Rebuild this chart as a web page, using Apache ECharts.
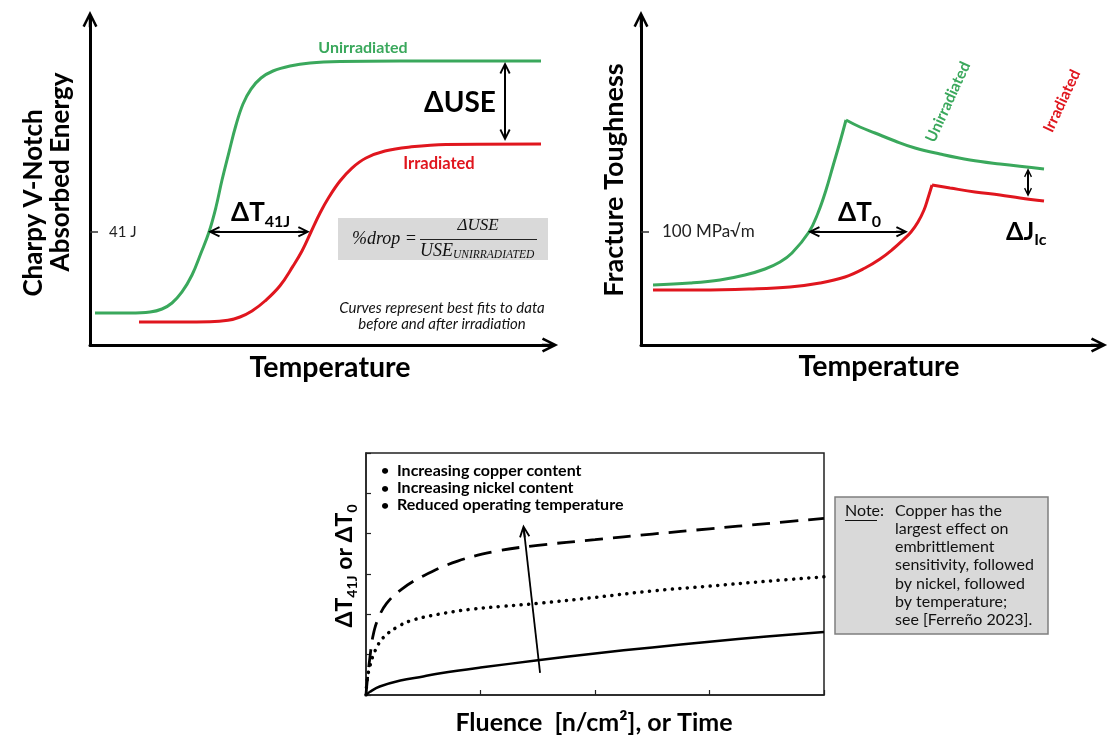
<!DOCTYPE html>
<html>
<head>
<meta charset="utf-8">
<script src="https://cdn.jsdelivr.net/npm/echarts@6/dist/echarts.min.js"></script>
<style>
html,body{margin:0;padding:0;background:#fff;}
#chart{width:1110px;height:738px;}
</style>
</head>
<body>
<div id="chart"></div>
<script>
// ---------- DATA (schematic values) ----------
// Panel A: Charpy energy vs temperature (arbitrary 0-100 units)
const charpyUnirr = [[1.07,9.50],[8.58,9.50],[12.88,9.79],[15.45,10.68],[17.60,12.46],[19.74,15.73],[21.89,20.77],[23.82,27.30],[25.54,33.53],[27.04,40.95],[28.33,48.96],[29.83,57.27],[31.33,65.28],[32.83,71.51],[34.55,75.96],[36.70,79.23],[39.27,81.31],[42.92,82.79],[47.21,83.68],[53.65,84.12],[66.52,84.27],[96.78,84.27]];
const charpyIrr = [[10.52,6.82],[19.31,6.82],[25.75,6.88],[29.61,7.33],[32.19,8.31],[34.76,10.09],[37.55,13.06],[40.77,17.6],[43.56,23.4],[45.49,27.89],[47.42,33.53],[49.36,39.17],[51.29,43.92],[53.65,48.66],[56.22,52.52],[59.23,55.49],[63.30,57.57],[68.67,58.75],[76.39,59.50],[96.78,59.64]];
const charpyRef = 33.53;           // 41 J level
const charpyRefLabel = '41 J';
const dUSEArrow = [[89.06,82.2],[89.06,62.3]];
const dT41JArrow = [[26.6,33.6],[45.9,33.6]];

// Panel B: fracture toughness vs temperature
const toughUnirr = [[2.58,17.80],[10.52,18.40],[16.95,19.29],[22.32,20.77],[26.61,22.55],[29.83,24.63],[32.40,27.30],[36.05,33.53],[37.98,39.17],[39.70,45.99],[41.20,53.12],[42.70,60.24],[43.99,66.77],[46.99,64.69],[50.21,62.91],[54.51,60.53],[58.80,58.46],[64.16,56.68],[70.60,54.90],[77.04,53.71],[86.48,52.23]];
const toughIrr = [[2.58,16.32],[12.66,16.32],[23.39,16.62],[31.97,17.21],[38.41,18.40],[43.78,20.18],[48.07,22.85],[51.29,25.52],[54.08,28.49],[56.22,31.16],[57.94,33.53],[59.44,36.50],[60.73,40.06],[61.59,43.62],[62.45,47.48],[66.31,46.59],[71.67,45.40],[77.04,44.51],[81.33,43.62],[86.48,42.73]];
const toughRef = 33.53;            // 100 MPa√m level
const toughRefLabel = '100 MPa√m';
const dT0Arrow = [[37.1,33.6],[56.0,33.6]];
const dJArrow = [[83.05,51.1],[83.05,45.3]];

// Panel C: shift vs fluence (0-4 x, 0-6 y)
const shiftLow  = [[0,0],[0.035,0.08],[0.12,0.21],[0.3,0.36],[0.5,0.46],[0.65,0.54],[1,0.68],[1.5,0.86],[2,1.03],[2.5,1.18],[3,1.32],[3.5,1.45],[4,1.56]];
const shiftMid  = [[0,0],[0.01,0.37],[0.035,0.72],[0.08,1.1],[0.15,1.42],[0.27,1.68],[0.4,1.85],[0.63,2.0],[0.9,2.12],[1.2,2.2],[1.5,2.27],[2,2.42],[2.5,2.58],[3,2.7],[3.5,2.82],[4,2.93]];
const shiftHigh = [[0,0],[0.01,0.33],[0.035,0.95],[0.06,1.45],[0.1,1.85],[0.18,2.27],[0.31,2.62],[0.5,2.95],[0.8,3.32],[1.15,3.57],[1.5,3.71],[2,3.85],[2.5,3.99],[3,4.12],[3.5,4.25],[4,4.38]];
const trendArrow = [[1.52,0.55],[1.38,4.07]];
const bulletItems = ['Increasing copper content','Increasing nickel content','Reduced operating temperature'];
const noteLines = ['Copper has the','largest effect on','embrittlement','sensitivity, followed','by nickel, followed','by temperature;','see [Ferreño 2023].'];

// ---------- STYLE ----------
const GREEN = '#3aa85c', RED = '#e0161e';
const FONT = 'Lato';
const ARROW = 'path://M0,12 L6,0 L12,12 L10.2,13 L7,6.5 L7,13 L5,13 L5,6.5 L1.8,13 Z';

function split(arr){
  let k = 0; arr.forEach((p,i)=>{ if(p[1] > arr[k][1]) k = i; });
  return [arr.slice(0,k+1), arr.slice(k)];
}
const [tuRise, tuFall] = split(toughUnirr);
const [tiRise, tiFall] = split(toughIrr);

function arrowAxis(gi, max, extra){
  return Object.assign({
    gridIndex: gi, type:'value', min:0, max:max,
    axisLine:{show:true, onZero:false, symbol:['none', ARROW], symbolSize:[15,18], lineStyle:{color:'#000', width:3}},
    axisTick:{show:false}, axisLabel:{show:false}, splitLine:{show:false}
  }, extra||{});
}
function refAxis(gi, max, val, label, fs, margin){
  return arrowAxis(gi, max, {
    axisTick:{show:true, inside:true, length:8, customValues:[val], lineStyle:{color:'#333', width:1.5}},
    axisLabel:{show:true, inside:true, customValues:[val], formatter:()=>label, margin:margin, fontSize:fs, color:'#222', fontFamily:FONT}
  });
}
function boxAxis(gi, max){
  return {gridIndex:gi, type:'value', min:0, max:max, interval:1,
    axisLine:{show:true, onZero:false, lineStyle:{color:'#222', width:1.5}},
    axisTick:{show:true, inside:true, length:5, lineStyle:{color:'#222', width:1.2}},
    axisLabel:{show:false}, splitLine:{show:false}};
}
function ml(pairs, size){
  return {silent:true, symbol:[ARROW, ARROW], symbolSize:size, label:{show:false},
    lineStyle:{color:'#000', width:2, type:'solid'}, emphasis:{disabled:true},
    data: pairs.map(p=>[{coord:p[0]},{coord:p[1]}])};
}
function line(xi, data, color, extra){
  return Object.assign({type:'line', xAxisIndex:xi, yAxisIndex:xi, data:data, showSymbol:false, symbol:'none',
    smooth:0.4, silent:true, lineStyle:{color:color, width:3}}, extra||{});
}

function txt(x, y, text, font, fill, extra){
  return Object.assign({type:'text', x:x, y:y, silent:true,
    style:Object.assign({text:text, font:font, fill:fill||'#000', align:'center', verticalAlign:'middle',
      textAlign:'center', textVerticalAlign:'middle'}, (extra&&extra.style)||{})},
    extra ? {rotation: extra.rotation||0} : {});
}
function sub(x, y, main, s, mainFont, subFont, pad, extra){
  const st = {text:'{m|'+main+'}{s|'+s+'}', rich:{m:{font:mainFont, fill:'#000'}, s:{font:subFont, fill:'#000', padding:[pad,0,0,0]}},
    align:'left', verticalAlign:'middle', textAlign:'left', textVerticalAlign:'middle'};
  return Object.assign({type:'text', x:x, y:y, silent:true, style:st}, extra||{});
}

const graphics = [
  // Panel A texts
  txt(34, 203, 'Charpy V-Notch', 'bold 26px '+FONT, '#000', {rotation:Math.PI/2}),
  txt(61, 172, 'Absorbed Energy', 'bold 26px '+FONT, '#000', {rotation:Math.PI/2}),
  txt(330, 368, 'Temperature', 'bold 28.5px '+FONT),
  txt(363, 48, 'Unirradiated', 'bold 16px '+FONT, GREEN),
  txt(439, 164, 'Irradiated', 'bold 16.5px '+FONT, RED),
  txt(460, 103, 'ΔUSE', 'bold 28px '+FONT),
  sub(231, 213, 'ΔT', '41J', 'bold 26px '+FONT, 'bold 16px '+FONT, 18),
  {type:'rect', silent:true, z:-1, shape:{x:338, y:218, width:210, height:42}, style:{fill:'#d9d9d9'}},
  txt(352, 239, '%drop =', 'italic 18px "Liberation Serif"', '#111', {style:{align:'left', textAlign:'left'}}),
  txt(478, 226, 'ΔUSE', 'italic 17px "Liberation Serif"', '#111'),
  {type:'line', silent:true, shape:{x1:420, y1:239.5, x2:537, y2:239.5}, style:{stroke:'#222', lineWidth:1.2}},
  {type:'text', x:420, y:251, silent:true, style:{text:'{a|USE}{b|UNIRRADIATED}',
    rich:{a:{font:'italic 18px "Liberation Serif"', fill:'#111'}, b:{font:'italic 11.5px "Liberation Serif"', fill:'#111', padding:[8,0,0,0]}},
    align:'left', verticalAlign:'middle', textAlign:'left', textVerticalAlign:'middle'}},
  txt(442, 308, 'Curves represent best fits to data', 'italic 15px '+FONT, '#111'),
  txt(442, 324, 'before and after irradiation', 'italic 15px '+FONT, '#111'),
  // Panel B texts
  txt(614, 180, 'Fracture Toughness', 'bold 27px '+FONT, '#000', {rotation:Math.PI/2}),
  txt(879, 367, 'Temperature', 'bold 28.5px '+FONT),
  txt(948, 102, 'Unirradiated', 'bold 15.5px '+FONT, GREEN, {rotation:1.14}),
  txt(1062, 101, 'Irradiated', 'bold 15.5px '+FONT, RED, {rotation:1.13}),
  sub(838, 213, 'ΔT', '0', 'bold 26px '+FONT, 'bold 16px '+FONT, 18),
  sub(1006, 232, 'ΔJ', 'Ic', 'bold 25px '+FONT, 'bold 16px '+FONT, 16),
  // Panel C texts
  {type:'text', x:345, y:566, rotation:Math.PI/2, silent:true, style:{text:'{m|ΔT}{s|41J}{m| or ΔT}{s|0}',
    rich:{m:{font:'bold 23px '+FONT, fill:'#000'}, s:{font:'bold 14px '+FONT, fill:'#000', padding:[14,0,0,0]}},
    align:'center', verticalAlign:'middle', textAlign:'center', textVerticalAlign:'middle'}},
  txt(594, 723, 'Fluence  [n/cm²], or Time', 'bold 25px '+FONT),
  // Note box
  {type:'rect', silent:true, shape:{x:835, y:497, width:213, height:137}, style:{fill:'#d9d9d9', stroke:'#7f7f7f', lineWidth:1.5}},
  txt(845, 511, 'Note:', '16px '+FONT, '#111', {style:{align:'left', textAlign:'left'}}),
  {type:'line', silent:true, shape:{x1:845, y1:520.5, x2:877, y2:520.5}, style:{stroke:'#111', lineWidth:1}},
  {type:'text', x:895, y:501.5, silent:true, style:{text:noteLines.join('\n'), font:'16px '+FONT, fill:'#111', lineHeight:18.2,
    align:'left', verticalAlign:'top', textAlign:'left', textVerticalAlign:'top'}}
];
bulletItems.forEach((t,i)=>{
  const y = 470.7 + i*17.3;
  graphics.push(txt(385, y, '•', 'bold 14px '+FONT));
  graphics.push(txt(397, y, t, 'bold 16px '+FONT, '#000', {style:{align:'left', textAlign:'left'}}));
});

const option = {
  backgroundColor:'#fff',
  animation:false,
  grid:[
    {left:90, top:19, width:460, height:326, outerBoundsMode:'none'},
    {left:641, top:19, width:458, height:326, outerBoundsMode:'none'},
    {left:366, top:453, width:458, height:242, show:true, borderColor:'#222', borderWidth:1.5, backgroundColor:'transparent', outerBoundsMode:'none'}
  ],
  xAxis:[arrowAxis(0, 98.71), arrowAxis(1, 98.28), boxAxis(2, 4)],
  yAxis:[refAxis(0, 96.74, charpyRef, charpyRefLabel, 15, 19), refAxis(1, 96.74, toughRef, toughRefLabel, 17, 21), boxAxis(2, 6)],
  series:[
    line(0, charpyUnirr, GREEN, {markLine: ml([dUSEArrow, dT41JArrow], [11,12])}),
    line(0, charpyIrr, RED),
    line(1, tuRise, GREEN, {markLine: ml([dT0Arrow], [11,12])}),
    line(1, tuFall, GREEN),
    line(1, tiRise, RED, {markLine: ml([dJArrow], [8,9])}),
    line(1, tiFall, RED),
    line(2, shiftLow, '#000', {lineStyle:{color:'#000', width:2.5},
      markLine:{silent:true, symbol:['none', ARROW], symbolSize:[11,13], label:{show:false}, emphasis:{disabled:true},
        lineStyle:{color:'#000', width:1.8, type:'solid'}, data:[[{coord:trendArrow[0]},{coord:trendArrow[1]}]]}}),
    line(2, shiftMid, '#000', {lineStyle:{color:'#000', width:3.5, type:[0.1,7.5], cap:'round'}}),
    line(2, shiftHigh, '#000', {lineStyle:{color:'#000', width:2.8, type:[18,10]}})
  ],
  graphic: graphics
};
const chart = echarts.init(document.getElementById('chart'), null, {renderer:'canvas'});
chart.setOption(option);
</script>
</body>
</html>
